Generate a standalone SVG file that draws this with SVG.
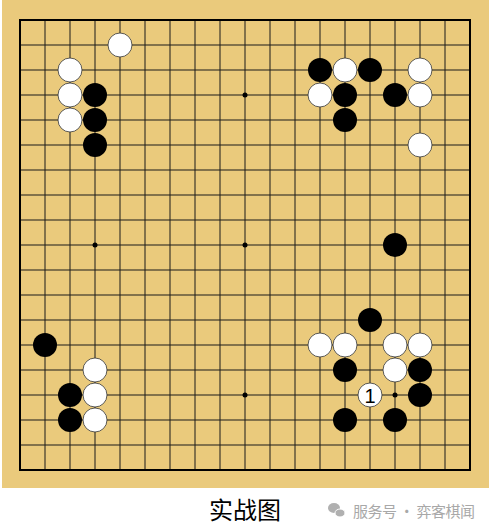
<svg xmlns="http://www.w3.org/2000/svg" width="491" height="531" viewBox="0 0 491 531">
<style>
.g{stroke:#1a1a1a;stroke-width:1;fill:none}
.b{fill:#000}
.w{fill:#fff;stroke:#333;stroke-width:0.8}
.s{fill:#000}
.t{font-family:"Noto Sans CJK SC","Liberation Sans",sans-serif}
</style>
<rect x="0" y="0" width="491" height="531" fill="#fff"/>
<rect x="2" y="0" width="487" height="488" fill="#EACA7C"/>
<g id="grid">
<path class="g" d="M20 45H470M20 70H470M20 95H470M20 120H470M20 145H470M20 170H470M20 195H470M20 220H470M20 245H470M20 270H470M20 295H470M20 320H470M20 345H470M20 370H470M20 395H470M20 420H470M20 445H470"/>
<path class="g" d="M45 20V470M70 20V470M95 20V470M120 20V470M145 20V470M170 20V470M195 20V470M220 20V470M245 20V470M270 20V470M295 20V470M320 20V470M345 20V470M370 20V470M395 20V470M420 20V470M445 20V470"/>
<rect x="20" y="20" width="450" height="450" fill="none" stroke="#000" stroke-width="2"/>
<circle class="s" cx="245" cy="95" r="2.5"/>
<circle class="s" cx="95" cy="245" r="2.5"/>
<circle class="s" cx="245" cy="245" r="2.5"/>
<circle class="s" cx="245" cy="395" r="2.5"/>
<circle class="s" cx="395" cy="395" r="2.5"/>
</g>
<g id="white-stones">
<circle class="w" cx="120" cy="45" r="12"/>
<circle class="w" cx="70" cy="70" r="12"/>
<circle class="w" cx="70" cy="95" r="12"/>
<circle class="w" cx="70" cy="120" r="12"/>
<circle class="w" cx="345" cy="70" r="12"/>
<circle class="w" cx="420" cy="70" r="12"/>
<circle class="w" cx="320" cy="95" r="12"/>
<circle class="w" cx="420" cy="95" r="12"/>
<circle class="w" cx="420" cy="145" r="12"/>
<circle class="w" cx="320" cy="345" r="12"/>
<circle class="w" cx="345" cy="345" r="12"/>
<circle class="w" cx="395" cy="345" r="12"/>
<circle class="w" cx="420" cy="345" r="12"/>
<circle class="w" cx="395" cy="370" r="12"/>
<circle class="w" cx="95" cy="370" r="12"/>
<circle class="w" cx="95" cy="395" r="12"/>
<circle class="w" cx="95" cy="420" r="12"/>
</g>
<g id="black-stones">
<circle class="b" cx="95" cy="95" r="12"/>
<circle class="b" cx="95" cy="120" r="12"/>
<circle class="b" cx="95" cy="145" r="12"/>
<circle class="b" cx="320" cy="70" r="12"/>
<circle class="b" cx="370" cy="70" r="12"/>
<circle class="b" cx="345" cy="95" r="12"/>
<circle class="b" cx="395" cy="95" r="12"/>
<circle class="b" cx="345" cy="120" r="12"/>
<circle class="b" cx="395" cy="245" r="12"/>
<circle class="b" cx="370" cy="320" r="12"/>
<circle class="b" cx="45" cy="345" r="12"/>
<circle class="b" cx="345" cy="370" r="12"/>
<circle class="b" cx="420" cy="370" r="12"/>
<circle class="b" cx="70" cy="395" r="12"/>
<circle class="b" cx="420" cy="395" r="12"/>
<circle class="b" cx="70" cy="420" r="12"/>
<circle class="b" cx="345" cy="420" r="12"/>
<circle class="b" cx="395" cy="420" r="12"/>
</g>
<g id="move-1">
<circle class="w" cx="370" cy="395" r="12"/>
<text x="370" y="402.5" text-anchor="middle" font-family="Liberation Sans, sans-serif" font-size="20" fill="#000">1</text>
</g>
<g id="caption">
<text class="t" x="245" y="519" text-anchor="middle" font-size="24" fill="#000">实战图</text>
</g>
<g id="watermark">
<ellipse cx="334" cy="508" rx="6" ry="5" fill="#b0b0b0"/>
<ellipse cx="340" cy="513" rx="5" ry="4" fill="#b0b0b0" stroke="#fff" stroke-width="1"/>
<text class="t" x="353" y="517" font-size="15" fill="#a8a8a8" textLength="122">服务号 · 弈客棋闻</text>
</g>
</svg>
